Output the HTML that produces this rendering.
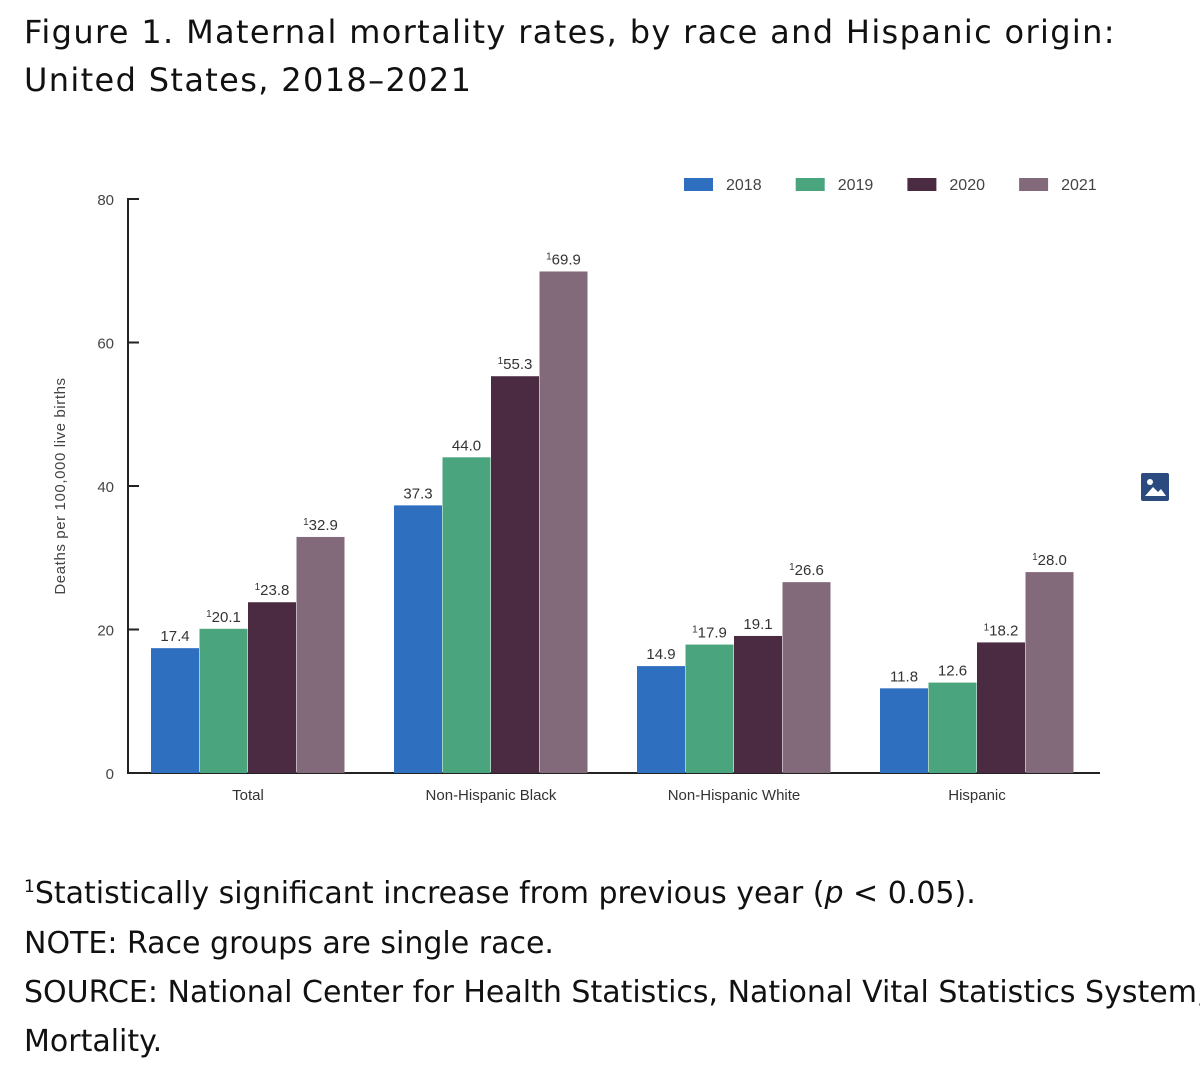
<!DOCTYPE html>
<html><head><meta charset="utf-8"><style>
body{margin:0;width:1200px;height:1083px;background:#fff;overflow:hidden;font-family:"Liberation Sans","DejaVu Sans",sans-serif;}
.t{position:absolute;left:24px;color:#111;font-family:"DejaVu Sans","Liberation Sans",sans-serif;font-size:32px;line-height:48px;white-space:nowrap;}
.n{position:absolute;left:24px;color:#111;font-family:"DejaVu Sans","Liberation Sans",sans-serif;font-size:30px;white-space:nowrap;}
</style></head><body>
<div class="t" style="top:8px;letter-spacing:1.35px">Figure 1. Maternal mortality rates, by race and Hispanic origin:<br>United States, 2018–2021</div>
<svg id="c" width="1200" height="860" style="position:absolute;left:0;top:0"></svg>
<div style="position:absolute;left:1141px;top:473px;width:28px;height:28px;background:#2b4a80;border-radius:2px">
<svg width="28" height="28"><circle cx="9" cy="9" r="3" fill="#fff"/><polygon points="4,23 12,14 17,19 20,16 25,23" fill="#fff"/></svg></div>
<div class="n" style="top:876px"><sup style="font-size:17px">1</sup>Statistically significant increase from previous year (<i>p</i> &lt; 0.05).</div>
<div class="n" style="top:926px">NOTE: Race groups are single race.</div>
<div class="n" style="top:975px">SOURCE: National Center for Health Statistics, National Vital Statistics System,</div>
<div class="n" style="top:1024px">Mortality.</div>
<script>
const categories=["Total","Non-Hispanic Black","Non-Hispanic White","Hispanic"];
const years=["2018","2019","2020","2021"];
const v2018=[17.4,37.3,14.9,11.8];
const v2019=[20.1,44.0,17.9,12.6];
const v2020=[23.8,55.3,19.1,18.2];
const v2021=[32.9,69.9,26.6,28.0];
const sig2018=[false,false,false,false];
const sig2019=[true,false,true,false];
const sig2020=[true,true,false,true];
const sig2021=[true,true,true,true];
const yTicks=[0,20,40,60,80];
const series=[v2018,v2019,v2020,v2021];
const sigs=[sig2018,sig2019,sig2020,sig2021];
const colors=["#2e6fc0","#4aa57e","#4b2b42","#836a7b"];
const svg=document.getElementById('c');const NS="http://www.w3.org/2000/svg";
function y(v){return 773-v*(773-199)/80;}
function x(ci,si){return 151+ci*243+si*48.5;}
function mk(t,a,txt){const e=document.createElementNS(NS,t);for(const k in a)e.setAttribute(k,a[k]);if(txt!=null)e.textContent=txt;svg.appendChild(e);return e;}
let e=mk('line',{x1:128,y1:198,x2:128,y2:774,stroke:'#222','stroke-width':2});

e=mk('line',{x1:127,y1:773,x2:1100,y2:773,stroke:'#222','stroke-width':2});

yTicks.forEach(t=>{
 if(t>0){const l=mk('line',{x1:128,y1:y(t),x2:139,y2:y(t),stroke:'#222','stroke-width':2});
 }
 const tx=mk('text',{x:114,y:y(t)+6,'text-anchor':'end','font-size':15,fill:'#444'},t);
 
});
e=mk('text',{x:0,y:0,transform:'translate(65,486) rotate(-90)','text-anchor':'middle','font-size':15,'letter-spacing':0.6,fill:'#444'},'Deaths per 100,000 live births');

categories.forEach((c,ci)=>{
 series.forEach((s,si)=>{
  const r=mk('rect',{x:x(ci,si),y:y(s[ci]),width:48,height:773-y(s[ci]),fill:colors[si]});
  
  const tx=mk('text',{x:x(ci,si)+24,y:y(s[ci])-7,'text-anchor':'middle','font-size':15,fill:'#333'});
  
  if(sigs[si][ci]){const sp=document.createElementNS(NS,'tspan');sp.setAttribute('font-size',10);sp.setAttribute('dy',-5);sp.textContent='1';tx.appendChild(sp);
   const sp2=document.createElementNS(NS,'tspan');sp2.setAttribute('dy',5);sp2.textContent=s[ci].toFixed(1);tx.appendChild(sp2);}
  else tx.textContent=s[ci].toFixed(1);
 });
 const cl=mk('text',{x:x(ci,0)+97,y:800,'text-anchor':'middle','font-size':15,fill:'#333'},c);
 
});
years.forEach((yr,i)=>{
 const lx=684+i*111.7;
 const r=mk('rect',{x:lx,y:178,width:29,height:13,fill:colors[i]});
 
 const t=mk('text',{x:lx+42,y:190,'font-size':16,fill:'#444'},yr);
 
});
</script>
</body></html>
